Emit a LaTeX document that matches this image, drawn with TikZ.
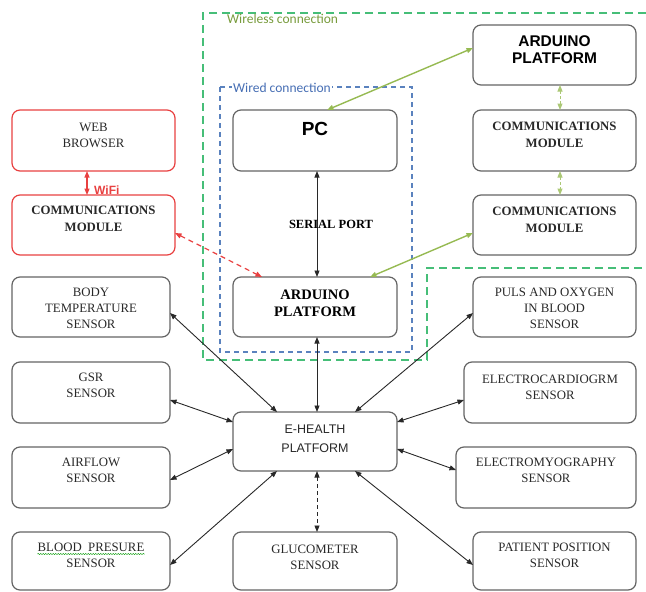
\documentclass[tikz,border=0pt]{standalone}
\usepackage{fontspec}
\setmainfont{Liberation Serif}
\newfontfamily\arialf{Liberation Sans}
\newfontfamily\calibf{Carlito}
\usetikzlibrary{arrows.meta,calc,decorations.pathmorphing}
\definecolor{boxgray}{RGB}{100,100,100}
\definecolor{txtgray}{RGB}{40,40,40}
\definecolor{redc}{RGB}{232,64,64}
\definecolor{greenarr}{RGB}{150,186,82}
\definecolor{greenbox}{RGB}{70,190,120}
\definecolor{bluebox}{RGB}{90,130,190}
\definecolor{olivetxt}{RGB}{120,155,60}
\definecolor{bluetxt}{RGB}{70,110,180}
\begin{document}
\begin{tikzpicture}[x=1pt,y=-1pt,
  box/.style={draw=boxgray, line width=1.2pt, rounded corners=8pt, inner sep=0pt, outer sep=0pt},
  redbox/.style={box, draw=redc},
  txt/.style={inner sep=0pt, align=center, anchor=north, text=txtgray, font=\fontsize{12.8}{16}\selectfont},
  btxt/.style={txt, font=\fontsize{12.8}{17}\selectfont\bfseries},
  atxt/.style={txt, font=\fontsize{15.5}{17}\selectfont\arialf\bfseries, text=black},
  tip/.tip={Triangle[length=6.5pt,width=5pt]},
  arr/.style={tip-tip, line width=0.9pt, draw=txtgray},
  garr/.style={tip-tip, line width=1.4pt, draw=greenarr},
  rarr/.style={tip-tip, line width=1.2pt, draw=redc}
]
\useasboundingbox (0,0) rectangle (646,592);

% dashed regions
\draw[greenbox, line width=1.3pt, dash pattern=on 8pt off 5pt]
  (646,13) -- (203,13) -- (203,360) -- (427,360) -- (427,268) -- (646,268);
\draw[bluebox, line width=1.1pt, dash pattern=on 5pt off 4pt]
  (220,87) rectangle (412,352);
\node[anchor=base west, inner sep=0pt, text=olivetxt, font=\fontsize{13.5}{15}\selectfont\calibf] (wlbl) at (227,23) {Wireless connection};
\node[anchor=base west, inner sep=1pt, fill=white, text=bluetxt, font=\fontsize{13.5}{15}\selectfont\calibf] (wdlbl) at (232,92) {Wired connection};

% boxes
\node[redbox, minimum width=163pt, minimum height=61pt] (web) at (93.5,140.5) {};
\node[redbox, minimum width=163pt, minimum height=60pt] (cmr) at (93.5,225) {};
\node[box, minimum width=164pt, minimum height=61pt] (pc) at (315,140.5) {};
\node[box, minimum width=163pt, minimum height=60pt] (ardtr) at (554.5,55) {};
\node[box, minimum width=163pt, minimum height=61pt] (cm1) at (554.5,140.5) {};
\node[box, minimum width=163pt, minimum height=60pt] (cm2) at (554.5,225) {};
\node[box, minimum width=164pt, minimum height=60pt] (ardm) at (315,307) {};
\node[box, minimum width=158pt, minimum height=60pt] (bt) at (91,307) {};
\node[box, minimum width=158pt, minimum height=61pt] (gsr) at (91,392.5) {};
\node[box, minimum width=158pt, minimum height=61pt] (air) at (91,477.5) {};
\node[box, minimum width=158pt, minimum height=58pt] (bp) at (91,561) {};
\node[box, minimum width=164pt, minimum height=59pt] (eh) at (315,441.5) {};
\node[box, minimum width=164pt, minimum height=58pt] (glu) at (315,561) {};
\node[box, minimum width=163pt, minimum height=60pt] (puls) at (554.5,307) {};
\node[box, minimum width=172pt, minimum height=61pt] (ecg) at (550,392.5) {};
\node[box, minimum width=180pt, minimum height=61pt] (emg) at (546,477.5) {};
\node[box, minimum width=163pt, minimum height=58pt] (pp) at (554.5,561) {};

% texts
\node[txt] (webt) at ($(web.north)+(0,13)$) {WEB\\BROWSER};
\node[btxt] (cmrt) at ($(cmr.north)+(0,11)$) {COMMUNICATIONS\\MODULE};
\node[txt, font=\fontsize{19}{20}\selectfont\arialf\bfseries, text=black] (pct) at ($(pc.north)+(0,12)$) {PC};
\node[atxt] (ardtrt) at ($(ardtr.north)+(0,10)$) {ARDUINO\\PLATFORM};
\node[btxt] (cm1t) at ($(cm1.north)+(0,12)$) {COMMUNICATIONS\\MODULE};
\node[btxt] (cm2t) at ($(cm2.north)+(0,12)$) {COMMUNICATIONS\\MODULE};
\node[txt, font=\fontsize{14.5}{17}\selectfont\bfseries, text=black] (ardmt) at ($(ardm.north)+(0,13)$) {ARDUINO\\PLATFORM};
\node[txt] (btt) at ($(bt.north)+(0,11)$) {BODY\\TEMPERATURE\\SENSOR};
\node[txt] (gsrt) at ($(gsr.north)+(0,11)$) {GSR\\SENSOR};
\node[txt] (airt) at ($(air.north)+(0,11)$) {AIRFLOW\\SENSOR};
\node[txt] (bpt) at ($(bp.north)+(0,11)$) {BLOOD\ \ PRESURE\\SENSOR};
\node[txt, font=\fontsize{12.5}{19}\selectfont\arialf] (eht) at ($(eh.north)+(0,13)$) {E-HEALTH\\PLATFORM};
\node[txt] (glut) at ($(glu.north)+(0,13)$) {GLUCOMETER\\SENSOR};
\node[txt] (pulst) at ($(puls.north)+(0,11)$) {PULS AND OXYGEN\\IN BLOOD\\SENSOR};
\node[txt] (ecgt) at ($(ecg.north)+(0,13)$) {ELECTROCARDIOGRM\\SENSOR};
\node[txt] (emgt) at ($(emg.north)+(0,11)$) {ELECTROMYOGRAPHY\\SENSOR};
\node[txt] (ppt) at ($(pp.north)+(0,11)$) {PATIENT POSITION\\SENSOR};
\draw[green!60!black, line width=0.5pt, decorate, decoration={snake, amplitude=0.6pt, segment length=2.5pt}]
  ($(bpt.north west)+(0,11)$) -- ($(bpt.north east)+(0,11)$);

% connectors
\draw[rarr] ([xshift=-6.5pt]web.south) -- ([xshift=-6.5pt]cmr.north);
\node[anchor=base west, inner sep=0pt, text=redc, font=\fontsize{12}{13}\selectfont\arialf\bfseries] (wifi) at (94,194) {WiFi};
\draw[rarr, dashed, dash pattern=on 5pt off 4pt] ([yshift=-8pt]cmr.east) -- ([xshift=29pt]ardm.north west);

\draw[arr] ([xshift=2pt]pc.south) -- ([xshift=2pt]ardm.north);
\node[inner sep=0pt, text=black, font=\fontsize{12.5}{14}\selectfont\bfseries] (serial) at (331,224) {SERIAL PORT};

\draw[garr] ([xshift=12pt]pc.north) -- ([yshift=7pt]ardtr.west);
\draw[garr, line width=1pt, draw=greenarr!80, dash pattern=on 3pt off 2pt] ([xshift=5.5pt]ardtr.south) -- ([xshift=5.5pt]cm1.north);
\draw[garr, line width=1pt, draw=greenarr!80, dash pattern=on 3pt off 2pt] ([xshift=5.5pt]cm1.south) -- ([xshift=5.5pt]cm2.north);
\draw[garr] ([yshift=-8pt]cm2.west) -- ([xshift=55pt]ardm.north);

\draw[arr] ([xshift=2pt]ardm.south) -- ([xshift=2pt]eh.north);
\draw[arr] ([yshift=-6pt]bt.east) -- ([xshift=-38pt]eh.north);
\draw[arr] ([yshift=-7.5pt]gsr.east) -- ([yshift=19.5pt]eh.west);
\draw[arr] ([yshift=-2.5pt]air.east) -- ([yshift=-7.5pt]eh.west);
\draw[arr] ([yshift=-4pt]bp.east) -- ([xshift=-38pt]eh.south);
\draw[arr, dash pattern=on 4pt off 3pt] ([xshift=2pt]eh.south) -- ([xshift=2pt]glu.north);
\draw[arr] ([yshift=-6pt]puls.west) -- ([xshift=40pt]eh.north);
\draw[arr] ([yshift=-7.5pt]ecg.west) -- ([yshift=19.5pt]eh.east);
\draw[arr] ([yshift=7.5pt]emg.west) -- ([yshift=-7.5pt]eh.east);
\draw[arr] ([yshift=-4pt]pp.west) -- ([xshift=40pt]eh.south);
\end{tikzpicture}
\end{document}
